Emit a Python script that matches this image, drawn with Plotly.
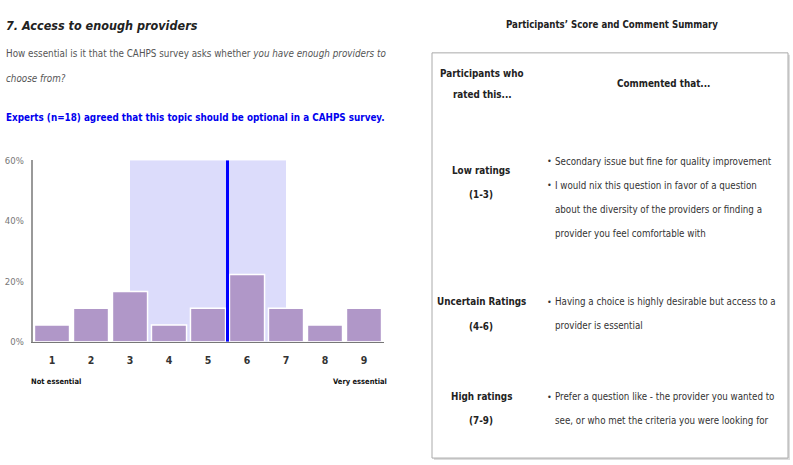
import plotly.graph_objects as go

W, H = 793, 465

# ---- data ----
ratings = [1, 2, 3, 4, 5, 6, 7, 8, 9]
counts = [1, 2, 3, 1, 2, 4, 2, 1, 2]
n_experts = 18
shares = [c / n_experts for c in counts]
band_low, band_high = 3, 7
median_rating = 5.5
y_ticks = [0, 0.2, 0.4, 0.6]
y_tick_labels = ["0%", "20%", "40%", "60%"]

title = "7. Access to enough providers"
question_1 = "How essential is it that the CAHPS survey asks whether <i>you have enough providers to</i>"
question_2 = "<i>choose from?</i>"
verdict = "Experts (n=18) agreed that this topic should be optional in a CAHPS survey."
left_label = "Not essential"
right_label = "Very essential"

panel_title = "Participants’ Score and Comment Summary"
col1_head = ["Participants who", "rated this..."]
col2_head = "Commented that..."
group_labels = [["Low ratings", "(1-3)"], ["Uncertain Ratings", "(4-6)"], ["High ratings", "(7-9)"]]
group_comments = [
    [["Secondary issue but fine for quality improvement"],
     ["I would nix this question in favor of a question",
      "about the diversity of the providers or finding a",
      "provider you feel comfortable with"]],
    [["Having a choice is highly desirable but access to a",
      "provider is essential"]],
    [["Prefer a question like - the provider you wanted to",
      "see, or who met the criteria you were looking for"]],
]

FONT = "DejaVu Sans Condensed, Liberation Sans Narrow, Liberation Sans, Arial"
BAR = "#b097c8"
BAND = "#dcdcfb"

def px(x):
    return x / W

def py(y):
    return 1 - y / H

fig = go.Figure()
fig.add_trace(go.Bar(
    x=ratings, y=shares,
    marker=dict(color=BAR, line=dict(color="white", width=1.5)),
    width=0.9, hoverinfo="skip",
))

x0, x1 = 32.5, 383.5
y0, y1 = 344, 158
fig.update_layout(
    width=W, height=H,
    margin=dict(l=0, r=0, t=0, b=0),
    paper_bgcolor="white", plot_bgcolor="white",
    showlegend=False,
    font=dict(family=FONT),
    xaxis=dict(domain=[px(x0), px(x1)], range=[0.5, 9.5],
               tickmode="array", tickvals=ratings, ticktext=["<b>%d</b>" % r for r in ratings],
               showline=True, linecolor="#777", linewidth=1,
               showgrid=False, zeroline=False, ticks="", ticklabelstandoff=9,
               tickfont=dict(size=10.5, color="#333", family=FONT),
               layer="below traces", fixedrange=True),
    yaxis=dict(domain=[py(y0), py(y1)], range=[0, 0.6],
               tickmode="array", tickvals=y_ticks, ticktext=y_tick_labels,
               showline=True, linecolor="#999", linewidth=1.5,
               showgrid=False, zeroline=False, ticks="", ticklabelstandoff=5,
               tickfont=dict(size=9.5, color="#777", family=FONT),
               layer="below traces", fixedrange=True),
)

fig.add_shape(type="rect", xref="x", yref="y", x0=band_low, x1=band_high, y0=0, y1=0.6,
              fillcolor=BAND, line=dict(width=0), layer="below")
fig.add_shape(type="line", xref="x", yref="y", x0=median_rating, x1=median_rating, y0=0, y1=0.6,
              line=dict(color="#0000ff", width=3), layer="above")

ann = []
def text(x, y, t, size=12, color="#333", anchor="left", bold=False, italic=False):
    if bold:
        t = "<b>" + t + "</b>"
    if italic:
        t = "<i>" + t + "</i>"
    ann.append(dict(x=px(x), y=py(y), xref="paper", yref="paper", text=t,
                    showarrow=False, xanchor=anchor, yanchor="middle",
                    font=dict(size=size, color=color, family=FONT)))

text(4, 20, title, size=12.5, color="#222", bold=True, italic=True)
text(4, 49, question_1, size=9.8, color="#555")
text(4, 74, question_2, size=9.8, color="#555")
text(4, 114, verdict, size=9.8, color="#0000ee", bold=True)
text(29, 385, left_label, size=7.5, color="#111", bold=True)
text(389, 385, right_label, size=7.5, color="#111", anchor="right", bold=True)

# right panel
text(612, 19, panel_title, size=9.6, color="#222", anchor="center", bold=True)
fig.add_shape(type="rect", xref="paper", yref="paper",
              x0=px(434), x1=px(790), y0=py(465), y1=py(50),
              fillcolor="#dddddd", line=dict(width=0), layer="below")
fig.add_shape(type="rect", xref="paper", yref="paper",
              x0=px(432), x1=px(788), y0=py(463), y1=py(48),
              fillcolor="white", line=dict(color="#aaaaaa", width=1), layer="below")

HS = 9.8
text(482, 69, col1_head[0], size=HS, color="#222", anchor="center", bold=True)
text(482, 91, col1_head[1], size=HS, color="#222", anchor="center", bold=True)
text(663, 79, col2_head, size=HS, color="#222", anchor="center", bold=True)

group_y = [159, 303, 400]
label_y = [168, 303, 400]
LS = 24.5
for label, comments, gy, ly in zip(group_labels, group_comments, group_y, label_y):
    text(481, ly, label[0], size=HS, color="#222", anchor="center", bold=True)
    text(481, ly + 25, label[1], size=HS, color="#222", anchor="center", bold=True)
    line = 0
    for b in comments:
        for j, t in enumerate(b):
            yy = gy + line * LS
            if j == 0:
                text(545, yy, "•", size=9, color="#333")
            text(553, yy, t, size=9.7, color="#333")
            line += 1

fig.update_layout(annotations=ann)
fig.write_html("out.html")
